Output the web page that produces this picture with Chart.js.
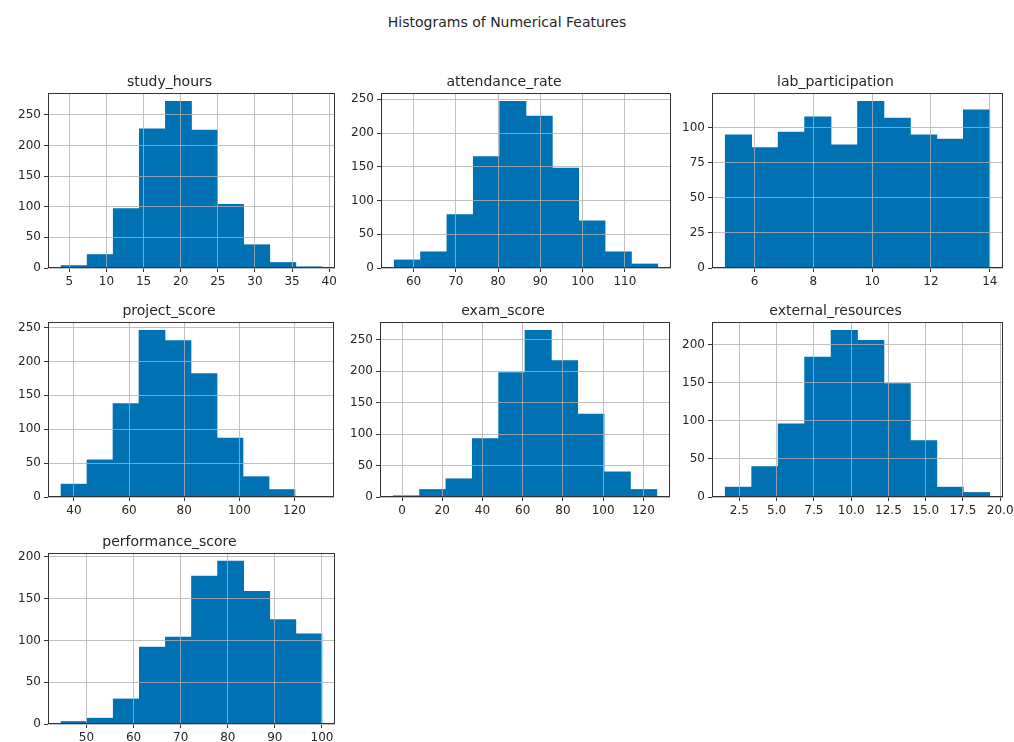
<!DOCTYPE html>
<html>
<head>
<meta charset="utf-8">
<title>Histograms of Numerical Features</title>
<script src="https://cdn.jsdelivr.net/npm/chart.js@4/dist/chart.umd.min.js"></script>
<style>
  body { margin: 0; background: #fff; width: 1014px; height: 742px; overflow: hidden; position: relative; font-family: "DejaVu Sans", sans-serif; }
  #suptitle { position: absolute; left: 0; top: 14px; width: 1014px; text-align: center; font-size: 14px; color: #262626; }
  canvas { position: absolute; }
</style>
</head>
<body>
<div id="suptitle">Histograms of Numerical Features</div>
<script>
// feature names, one histogram each (10 bins)
const featureNames = ['study_hours', 'attendance_rate', 'lab_participation', 'project_score', 'exam_score', 'external_resources', 'performance_score'];

// counts per bin
const studyHoursCounts   = [4, 22, 97, 227, 272, 225, 104, 38, 9, 2];
const attendanceCounts   = [12, 24, 79, 165, 247, 225, 148, 70, 24, 6];
const labCounts          = [95, 86, 97, 108, 88, 119, 107, 95, 92, 113];
const projectCounts      = [19, 55, 138, 246, 231, 182, 87, 30, 11, 1];
const examCounts         = [2, 12, 29, 93, 198, 265, 217, 132, 40, 12];
const externalCounts     = [13, 40, 96, 184, 219, 206, 149, 74, 13, 6];
const performanceCounts  = [3, 7, 30, 92, 104, 177, 195, 159, 125, 108];

// first and last bin edge of each histogram
const binLow  = [3.89, 55.4, 5, 35.3, -4.4, 1.55, 44.6];
const binHigh = [39.02, 117.8, 14, 129.6, 126.7, 19.3, 100];

// tick labels
const xTickValues = [
  [5, 10, 15, 20, 25, 30, 35, 40],
  [60, 70, 80, 90, 100, 110],
  [6, 8, 10, 12, 14],
  [40, 60, 80, 100, 120],
  [0, 20, 40, 60, 80, 100, 120],
  [2.5, 5, 7.5, 10, 12.5, 15, 17.5, 20],
  [50, 60, 70, 80, 90, 100]
];
const xTickDecimals = [0, 0, 0, 0, 0, 1, 0];
const yTickValues = [
  [0, 50, 100, 150, 200, 250],
  [0, 50, 100, 150, 200, 250],
  [0, 25, 50, 75, 100],
  [0, 50, 100, 150, 200, 250],
  [0, 50, 100, 150, 200, 250],
  [0, 50, 100, 150, 200],
  [0, 50, 100, 150, 200]
];

const allCounts = [studyHoursCounts, attendanceCounts, labCounts, projectCounts, examCounts, externalCounts, performanceCounts];

// plot area of each panel (left, top, width, height)
const panels = [
  [48, 93, 287, 175], [381, 93, 290, 175], [712, 93, 291, 175],
  [48, 322, 286, 175], [380, 322, 290, 175], [712, 322, 291, 175],
  [48, 553, 287, 171]
];

const barColor = '#0072b4';
const textColor = '#262626';
const gridColor = 'rgba(176,176,176,0.78)';
const fontFamily = '"DejaVu Sans", sans-serif';

const YW = 44;   // y axis width
const XH = 26;   // x axis height
const TH = 22;   // title height
const PR = 20;   // right padding

const frame = {
  id: 'frame',
  afterDraw(chart) {
    const { ctx, chartArea: a } = chart;
    ctx.save();
    ctx.strokeStyle = '#333';
    ctx.lineWidth = 1;
    ctx.strokeRect(Math.round(a.left) + 0.5, Math.round(a.top) + 0.5, Math.round(a.right - a.left) - 1, Math.round(a.bottom - a.top) - 1);
    ctx.restore();
  }
};

featureNames.forEach((name, k) => {
  const [pl, pt, pw, ph] = panels[k];
  const canvas = document.createElement('canvas');
  canvas.width = YW + pw + PR;
  canvas.height = TH + ph + XH;
  canvas.style.left = (pl - YW) + 'px';
  canvas.style.top = (pt - TH) + 'px';
  document.body.appendChild(canvas);

  const counts = allCounts[k];
  const lo = binLow[k], hi = binHigh[k];
  const w = (hi - lo) / counts.length;
  const span = hi - lo;
  const ymax = Math.max(...counts) * 1.05;
  const dec = xTickDecimals[k];

  new Chart(canvas, {
    type: 'bar',
    data: {
      datasets: [{
        data: counts.map((c, i) => ({ x: lo + (i + 0.5) * w, y: c })),
        backgroundColor: barColor,
        borderWidth: 0,
        barPercentage: 1,
        categoryPercentage: 1
      }]
    },
    options: {
      responsive: false,
      animation: false,
      layout: { padding: { left: 0, top: 0, right: PR, bottom: 0 } },
      plugins: {
        legend: { display: false },
        tooltip: { enabled: false },
        title: {
          display: true,
          text: name,
          color: textColor,
          font: { family: fontFamily, size: 14, weight: 'normal', lineHeight: 1.2 },
          padding: { top: 3.2, bottom: 2 }
        }
      },
      scales: {
        x: {
          type: 'linear',
          min: lo - 0.05 * span,
          max: hi + 0.05 * span,
          offset: false,
          afterBuildTicks: axis => { axis.ticks = xTickValues[k].map(v => ({ value: v })); },
          afterFit: axis => { axis.height = XH; },
          ticks: {
            color: textColor,
            font: { family: fontFamily, size: 12 },
            padding: 3,
            maxRotation: 0,
            autoSkip: false,
            callback: v => Number(v).toFixed(dec)
          },
          grid: { z: 1, offset: false, color: gridColor, tickColor: '#333', tickLength: 4, lineWidth: 1 },
          border: { display: false }
        },
        y: {
          min: 0,
          max: ymax,
          afterBuildTicks: axis => { axis.ticks = yTickValues[k].map(v => ({ value: v })); },
          afterFit: axis => { axis.width = YW; },
          ticks: {
            color: textColor,
            font: { family: fontFamily, size: 12 },
            padding: 3,
            autoSkip: false
          },
          grid: { z: 1, color: gridColor, tickColor: '#333', tickLength: 4, lineWidth: 1 },
          border: { display: false }
        }
      }
    },
    plugins: [frame]
  });
});
</script>
</body>
</html>
